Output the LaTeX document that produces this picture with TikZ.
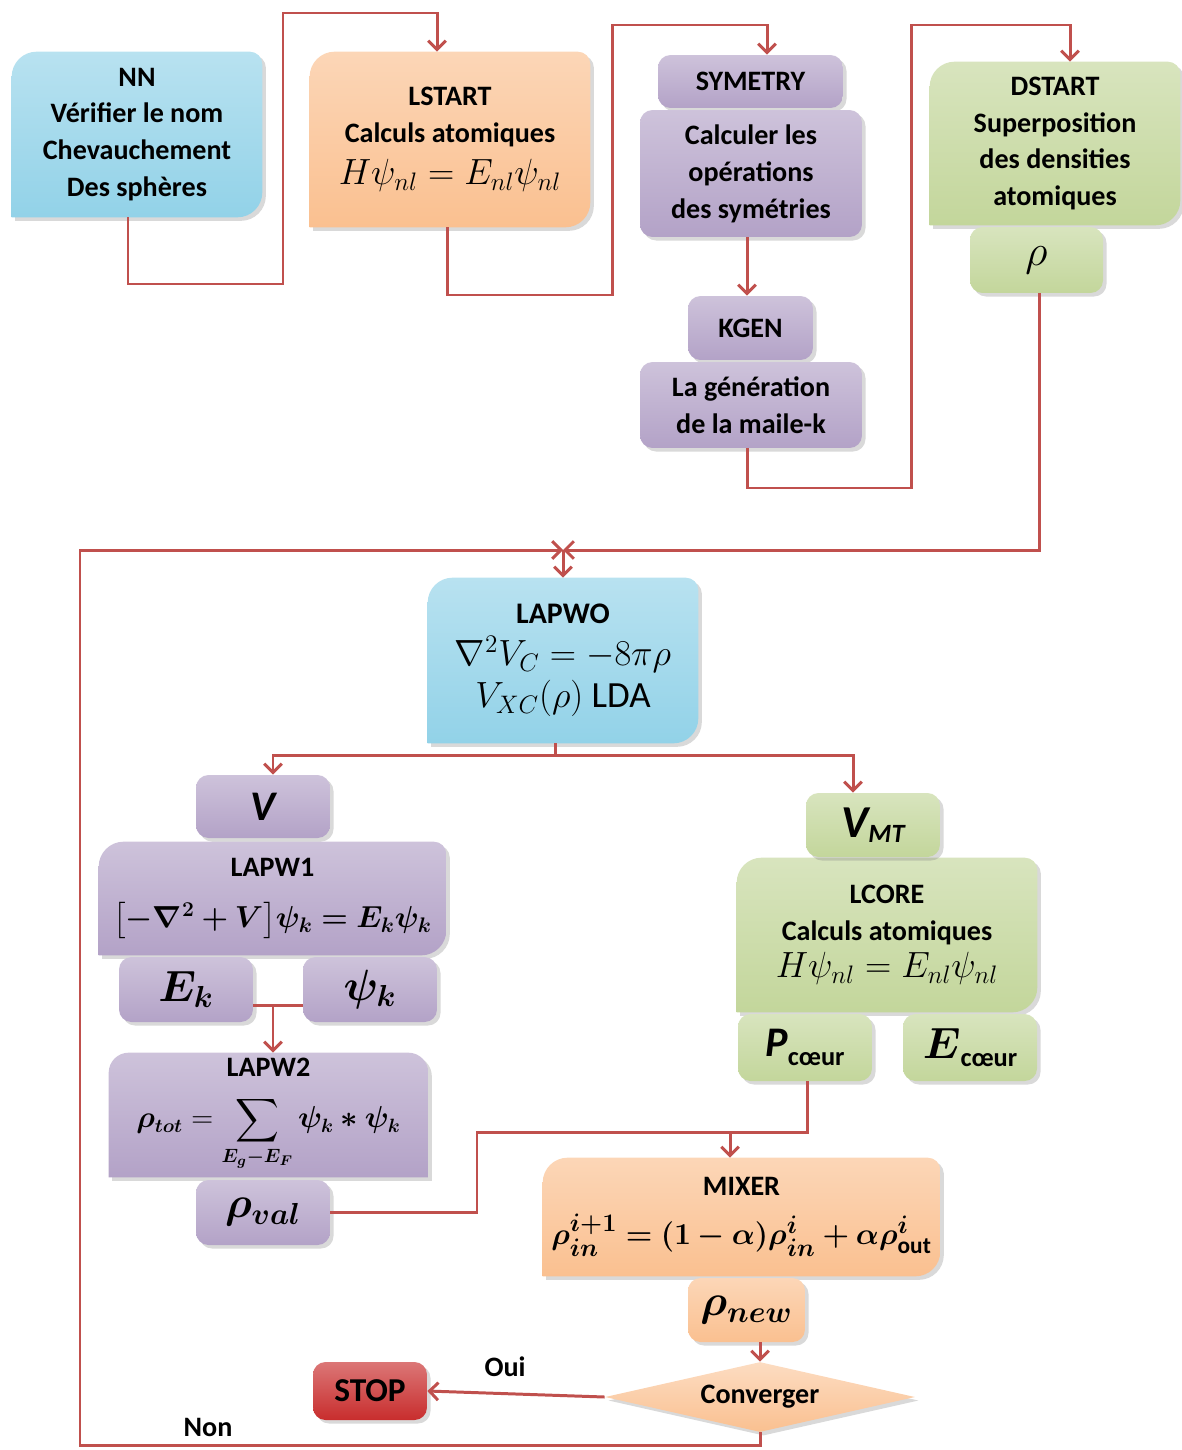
\documentclass[tikz,border=0pt]{standalone}
\usepackage{fontspec}
\setmainfont{Carlito}
\usepackage{amsmath,bm}
\usetikzlibrary{shapes.geometric,shadows,backgrounds,arrows.meta}
\definecolor{aqua}{RGB}{146,210,232}
\definecolor{peach}{RGB}{250,192,144}
\definecolor{lilac}{RGB}{179,162,199}
\definecolor{leaf}{RGB}{195,214,155}
\definecolor{wire}{RGB}{192,80,77}
\definecolor{stopred}{RGB}{200,45,45}
\newcommand{\eqsize}{\fontsize{21}{25}\selectfont}
\tikzset{txt/.style={font=\bfseries\fontsize{16}{21}\selectfont, align=center, inner sep=0pt},
  box/.style={txt},
  pill/.style={txt, rounded corners=0.25cm, top color=#1!65!white, bottom color=#1,
    drop shadow={opacity=0.3, shadow xshift=2pt, shadow yshift=-2pt}},
  link/.style={draw=wire, line width=1.7pt, -{Straight Barb[length=5pt, width=10pt]}},
  line/.style={draw=wire, line width=1.7pt}}
% box with round top-left / bottom-right corners
\newcommand{\cornerbox}[2]{%
  \path[top color=#2!65!white, bottom color=#2, drop shadow={opacity=0.3, shadow xshift=2pt, shadow yshift=-2pt}]
    (#1.south west) -- ([yshift=-0.5cm]#1.north west)
    arc[start angle=180, end angle=90, radius=0.5cm]
    -- ([xshift=-0.25cm]#1.north east)
    arc[start angle=90, end angle=0, radius=0.25cm]
    -- ([yshift=0.5cm]#1.south east)
    arc[start angle=0, end angle=-90, radius=0.5cm] -- cycle;}
% box with round top corners
\newcommand{\topbox}[2]{%
  \path[top color=#2!65!white, bottom color=#2, drop shadow={opacity=0.3, shadow xshift=2pt, shadow yshift=-2pt}]
    (#1.south west) -- ([yshift=-0.4cm]#1.north west)
    arc[start angle=180, end angle=90, radius=0.4cm]
    -- ([xshift=-0.4cm]#1.north east)
    arc[start angle=90, end angle=0, radius=0.4cm]
    -- (#1.south east) -- cycle;}
\begin{document}
\begin{tikzpicture}[x=0.02cm, y=-0.02cm]
\useasboundingbox (0,0) rectangle (1182,1450);
% initialisation
\node[box, minimum width=5cm, minimum height=3.3cm] (nn) at (137,134.5) {NN\\Vérifier le nom\\Chevauchement\\Des sphères};
\node[box, minimum width=5.6cm, minimum height=3.5cm] (lstart) at (450,139.5) {LSTART\\Calculs atomiques\\[3pt]{\eqsize $H\psi_{nl} = E_{nl}\psi_{nl}$}};
\node[pill=lilac, minimum width=3.7cm, minimum height=1.06cm] (sym) at (750.5,81.5) {SYMETRY};
\node[pill=lilac, minimum width=4.44cm, minimum height=2.54cm] (calc) at (751,173.5) {Calculer les\\opérations\\des symétries};
\node[pill=lilac, minimum width=2.5cm, minimum height=1.28cm] (kgen) at (750.5,328) {KGEN};
\node[pill=lilac, minimum width=4.44cm, minimum height=1.72cm] (gen) at (751,405) {La génération\\de la maile-k};
\node[box, minimum width=5cm, minimum height=3.26cm] (dstart) at (1055,143.5) {DSTART\\Superposition\\des densities\\atomiques};
\node[pill=leaf, minimum width=2.66cm, minimum height=1.32cm] (rho) at (1036.5,260) {\fontsize{24}{28}\selectfont$\rho$};
% scf cycle
\node[box, minimum width=5.4cm, minimum height=3.3cm] (lapwo) at (563,660.5) {\fontsize{17}{21}\selectfont LAPWO\\[3pt]{\eqsize $\nabla^2 V_C = -8\pi\rho$}\\[3pt]{\eqsize $V_{XC}(\rho)$ \mdseries LDA}};
\node[pill=lilac, minimum width=2.68cm, minimum height=1.26cm] (v) at (263,806.5) {\fontsize{24}{28}\selectfont\itshape V};
\node[box, minimum width=6.94cm, minimum height=2.26cm] (lapw1) at (272.5,898.5) {LAPW1\\[8pt]{\fontsize{18}{22}\selectfont $\bm{\bigl[-\nabla^2 + V\bigr]\psi_k = E_k\psi_k}$}};
\node[pill=lilac, minimum width=2.68cm, minimum height=1.3cm] (ek) at (186,989.5) {\fontsize{24}{28}\selectfont$\bm{E_k}$};
\node[pill=lilac, minimum width=2.68cm, minimum height=1.3cm] (psik) at (370,989.5) {\fontsize{24}{28}\selectfont$\bm{\psi_k}$};
\node[box, minimum width=6.38cm, minimum height=2.48cm] (lapw2) at (268.5,1115) {LAPW2\\[8pt]{\fontsize{16}{19}\selectfont $\displaystyle\bm{\rho_{tot}} = \sum_{\bm{E_g-E_F}} \bm{\psi_k * \psi_k}$}};
\node[pill=lilac, minimum width=2.68cm, minimum height=1.3cm] (rhoval) at (263,1212.5) {\fontsize{26}{30}\selectfont$\bm{\rho_{val}}$};
\node[pill=leaf, minimum width=2.68cm, minimum height=1.28cm] (vmt) at (873,825) {\fontsize{26}{30}\selectfont\itshape V\raisebox{-0.1em}{\fontsize{15}{18}\selectfont MT}};
\node[box, minimum width=6cm, minimum height=3.08cm] (lcore) at (887,935) {LCORE\\Calculs atomiques\\{\eqsize $H\psi_{nl} = E_{nl}\psi_{nl}$}};
\node[pill=leaf, minimum width=2.68cm, minimum height=1.34cm] (pc) at (805,1047.5) {\fontsize{24}{28}\selectfont\itshape P\raisebox{-0.2em}{\upshape\fontsize{15}{18}\selectfont cœur}};
\node[pill=leaf, minimum width=2.68cm, minimum height=1.34cm] (ec) at (970,1047.5) {\fontsize{24}{28}\selectfont$\bm{E}$\raisebox{-0.2em}{\fontsize{15}{18}\selectfont cœur}};
\node[box, minimum width=7.94cm, minimum height=2.36cm] (mixer) at (741.5,1217) {MIXER\\[7pt]{\fontsize{19}{23}\selectfont $\bm{\rho_{in}^{i+1} = (1-\alpha)\rho_{in}^{i} + \alpha\rho_{\text{out}}^{i}}$}};
\node[pill=peach, minimum width=2.34cm, minimum height=1.28cm] (rhonew) at (746.5,1310) {\fontsize{26}{30}\selectfont$\bm{\rho_{new}}$};
\node[txt, diamond, aspect=4.4, minimum width=6.2cm, minimum height=1.4cm, top color=peach!55!white, bottom color=peach,
  drop shadow={opacity=0.3, shadow xshift=2pt, shadow yshift=-2pt}] (conv) at (760,1397) {Converger};
\node[pill=stopred, minimum width=2.28cm, minimum height=1.16cm] (stop) at (370,1391) {\fontsize{19}{22}\selectfont STOP};
\node[txt] (oui) at (505,1367) {Oui};
\node[txt] (non) at (208,1427) {Non};
\begin{scope}[on background layer]
\foreach \n/\c in {nn/aqua, lstart/peach, dstart/leaf, lapwo/aqua, lapw1/lilac, lcore/leaf, mixer/peach}
  {\cornerbox{\n}{\c}}
\topbox{lapw2}{lilac}
\end{scope}
% connectors
\coordinate (merge) at (563,550);
\coordinate (split) at (555,755);
\coordinate (kk) at (273,1005);
\coordinate (mx) at (730,1132);
\draw[link] ([xshift=-0.18cm]nn.south) |- (283,284) -- (283,13) -| ([xshift=-0.26cm]lstart.north);
\draw[link] ([xshift=-0.06cm]lstart.south) |- (612,295) -- (612,25) -| ([xshift=0.33cm]sym.north);
\draw[link] ([xshift=-0.08cm]calc.south) -- ([xshift=-0.08cm]calc.south |- kgen.north);
\draw[link] ([xshift=-0.08cm]gen.south) |- (911,488) -- (911,25) -| ([xshift=0.3cm]dstart.north);
\draw[link] ([xshift=0.05cm]rho.south) |- (merge);
\draw[link] (conv.south) |- (80,1445) |- (merge);
\draw[link] (merge) -- (merge |- lapwo.north);
\draw[line] (split |- lapwo.south) -- (split);
\draw[link] (split) -| ([xshift=0.2cm]v.north);
\draw[link] (split) -| ([xshift=-0.4cm]vmt.north);
\draw[line] (ek.east |- kk) -- (psik.west |- kk);
\draw[link] (kk) -- (kk |- lapw2.north);
\draw[line] ([xshift=0.04cm]pc.south) |- (477,1132) |- (rhoval.east);
\draw[link] (mx) -- (mx |- mixer.north);
\draw[link] (conv.north |- rhonew.south) -- (conv.north);
\draw[link] (conv.west) -- (stop.east);
\end{tikzpicture}
\end{document}
